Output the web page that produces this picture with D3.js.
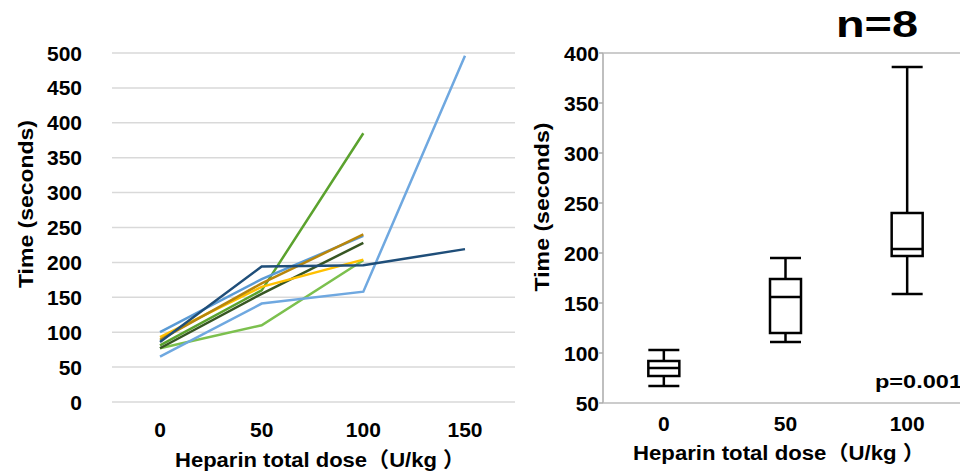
<!DOCTYPE html>
<html>
<head>
<meta charset="utf-8">
<script src="https://cdn.jsdelivr.net/npm/d3@7"></script>
<style>
  body { margin: 0; background: #fff; }
  text { font-family: "Liberation Sans", Arial, "Noto Sans CJK SC", sans-serif; font-weight: bold; fill: #000; }
</style>
</head>
<body>
<svg id="chart" width="960" height="475"></svg>
<script>
// left panel: individual animals
var doses = [0, 50, 100, 150];
var yTicksLeft = [0, 50, 100, 150, 200, 250, 300, 350, 400, 450, 500];
var lightBlue  = [65, 141, 158, 496];
var darkBlue   = [86, 194, 196, 219];
var green      = [81, 160, 385];
var lightGreen = [77, 110, 203];
var yellow     = [93, 165, 204];
var brown      = [89, 170, 240];
var darkGreen  = [77, 155, 228];
var midBlue    = [100, 176, 238];

// right panel: box plot
var boxDoses = ["0", "50", "100"];
var whiskerLo = [67, 111, 159];
var q1        = [77, 120, 197];
var median    = [85, 156, 204];
var q3        = [92, 174, 240];
var whiskerHi = [103, 195, 386];
var yTicksRight = [50, 100, 150, 200, 250, 300, 350, 400];

var svg = d3.select('#chart');

// ---------- left chart ----------
var x = d3.scalePoint().domain(doses).range([160, 465]);
var y = d3.scaleLinear().domain([0, 500]).range([402, 53]);

svg.append('g').selectAll('line').data(yTicksLeft).join('line')
  .attr('x1', 112).attr('x2', 515)
  .attr('y1', d => y(d)).attr('y2', d => y(d))
  .attr('stroke', '#d9d9d9').attr('stroke-width', 1.5);

svg.append('g').selectAll('text').data(yTicksLeft).join('text')
  .attr('x', 82).attr('y', d => y(d) + 7.5)
  .attr('text-anchor', 'end').attr('font-size', 21)
  .text(d => d);

svg.append('g').selectAll('text').data(doses).join('text')
  .attr('x', d => x(d)).attr('y', 437)
  .attr('text-anchor', 'middle').attr('font-size', 21)
  .text(d => d);

var series = [
  {vals: lightGreen, color: '#7cc04e'},
  {vals: lightBlue,  color: '#6fa8e0'},
  {vals: green,      color: '#5ba22e'},
  {vals: darkGreen,  color: '#375623'},
  {vals: yellow,     color: '#ffc000'},
  {vals: midBlue,    color: '#5b9bd5'},
  {vals: brown,      color: '#b8860b'},
  {vals: darkBlue,   color: '#1f4e79'}
];

var line = d3.line().x((d, i) => x(doses[i])).y(d => y(d));

svg.append('g').selectAll('path').data(series).join('path')
  .attr('d', d => line(d.vals))
  .attr('fill', 'none')
  .attr('stroke', d => d.color)
  .attr('stroke-width', 2.5);

svg.append('text')
  .attr('transform', 'translate(33,204) rotate(-90)')
  .attr('text-anchor', 'middle').attr('font-size', 21)
  .attr('textLength', 168).attr('lengthAdjust', 'spacingAndGlyphs')
  .text('Time (seconds)');

svg.append('text')
  .attr('x', 320).attr('y', 467)
  .attr('text-anchor', 'middle').attr('font-size', 21)
  .attr('textLength', 290).attr('lengthAdjust', 'spacingAndGlyphs')
  .text('Heparin total dose（U/kg ）');

// ---------- right chart ----------
var xb = d3.scaleBand().domain(boxDoses).range([603, 968]);
var yb = d3.scaleLinear().domain([50, 400]).range([403, 53]);
var bw = 31;

var g2 = svg.append('g');
g2.append('line').attr('x1', 603).attr('x2', 603).attr('y1', yb(400)).attr('y2', yb(50))
  .attr('stroke', '#aaa').attr('stroke-width', 1.5);
g2.append('line').attr('x1', 603).attr('x2', 960).attr('y1', yb(400)).attr('y2', yb(400))
  .attr('stroke', '#bbb').attr('stroke-width', 1.5);
g2.append('line').attr('x1', 603).attr('x2', 960).attr('y1', yb(50)).attr('y2', yb(50))
  .attr('stroke', '#bbb').attr('stroke-width', 1.5);

g2.selectAll('.tick').data(yTicksRight).join('line').attr('class', 'tick')
  .attr('x1', 599).attr('x2', 603)
  .attr('y1', d => yb(d)).attr('y2', d => yb(d))
  .attr('stroke', '#aaa').attr('stroke-width', 1.5);

g2.selectAll('.ylab').data(yTicksRight).join('text').attr('class', 'ylab')
  .attr('x', 599).attr('y', d => yb(d) + 7.5)
  .attr('text-anchor', 'end').attr('font-size', 21)
  .text(d => d);

g2.selectAll('.xlab').data(boxDoses).join('text').attr('class', 'xlab')
  .attr('x', d => xb(d) + xb.bandwidth() / 2).attr('y', 431)
  .attr('text-anchor', 'middle').attr('font-size', 21)
  .text(d => d);

var boxes = g2.selectAll('.box').data(boxDoses).join('g').attr('class', 'box')
  .attr('fill', 'none').attr('stroke', '#000').attr('stroke-width', 2.5);

boxes.each(function (d, i) {
  var b = d3.select(this);
  var cx = xb(d) + xb.bandwidth() / 2;
  b.append('line').attr('x1', cx).attr('x2', cx).attr('y1', yb(whiskerHi[i])).attr('y2', yb(q3[i]));
  b.append('line').attr('x1', cx).attr('x2', cx).attr('y1', yb(q1[i])).attr('y2', yb(whiskerLo[i]));
  b.append('line').attr('x1', cx - bw / 2).attr('x2', cx + bw / 2).attr('y1', yb(whiskerHi[i])).attr('y2', yb(whiskerHi[i]));
  b.append('line').attr('x1', cx - bw / 2).attr('x2', cx + bw / 2).attr('y1', yb(whiskerLo[i])).attr('y2', yb(whiskerLo[i]));
  b.append('rect').attr('x', cx - bw / 2).attr('width', bw)
    .attr('y', yb(q3[i])).attr('height', yb(q1[i]) - yb(q3[i]))
    .attr('fill', '#fff');
  b.append('line').attr('x1', cx - bw / 2).attr('x2', cx + bw / 2).attr('y1', yb(median[i])).attr('y2', yb(median[i]));
});

svg.append('text')
  .attr('transform', 'translate(549,207) rotate(-90)')
  .attr('text-anchor', 'middle').attr('font-size', 21)
  .attr('textLength', 169).attr('lengthAdjust', 'spacingAndGlyphs')
  .text('Time (seconds)');

svg.append('text')
  .attr('x', 779).attr('y', 460)
  .attr('text-anchor', 'middle').attr('font-size', 20)
  .attr('textLength', 292).attr('lengthAdjust', 'spacingAndGlyphs')
  .text('Heparin total dose（U/kg ）');

svg.append('text')
  .attr('x', 836).attr('y', 37)
  .attr('font-size', 36)
  .attr('textLength', 82).attr('lengthAdjust', 'spacingAndGlyphs')
  .text('n=8');

svg.append('text')
  .attr('x', 875).attr('y', 388)
  .attr('font-size', 18)
  .attr('textLength', 87).attr('lengthAdjust', 'spacingAndGlyphs')
  .text('p=0.001');
</script>
</body>
</html>
